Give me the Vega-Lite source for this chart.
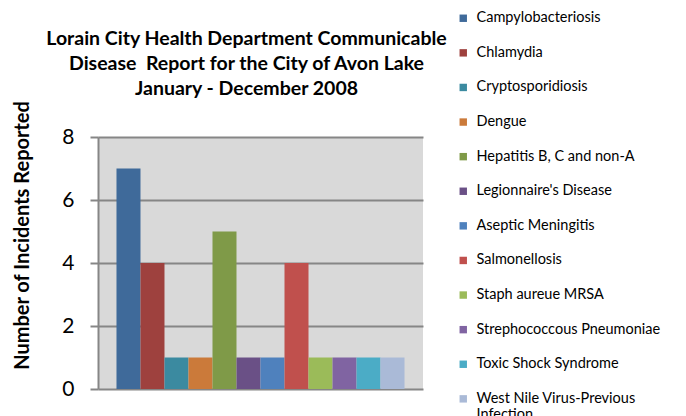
{
  "$schema": "https://vega.github.io/schema/vega-lite/v6.json",
  "autosize": {"type": "none"},
  "padding": {"left": 98, "top": 137, "right": 263, "bottom": 27},
  "width": 325,
  "height": 252,
  "background": "white",
  "title": {
    "text": ["Lorain City Health Department Communicable", "Disease\u00a0 Report for the City of Avon Lake", "January - December 2008"],
    "font": "Lato",
    "fontSize": 19.5,
    "fontWeight": "bold",
    "color": "black",
    "anchor": "middle",
    "frame": "group",
    "dx": -14,
    "offset": 0,
    "dy": 88,
    "lineHeight": 25
  },
  "data": {
    "values": [
      {"disease": "Campylobacteriosis", "count": 7},
      {"disease": "Chlamydia", "count": 4},
      {"disease": "Cryptosporidiosis", "count": 1},
      {"disease": "Dengue", "count": 1},
      {"disease": "Hepatitis B, C and non-A", "count": 5},
      {"disease": "Legionnaire's Disease", "count": 1},
      {"disease": "Aseptic Meningitis", "count": 1},
      {"disease": "Salmonellosis", "count": 4},
      {"disease": "Staph aureue MRSA", "count": 1},
      {"disease": "Strephococcous Pneumoniae", "count": 1},
      {"disease": "Toxic Shock Syndrome", "count": 1},
      {"disease": "West Nile Virus-Previous Infection", "count": 1}
    ]
  },
  "mark": {"type": "bar"},
  "encoding": {
    "x": {
      "field": "disease",
      "type": "nominal",
      "sort": null,
      "scale": {"paddingInner": 0, "paddingOuter": 0.77},
      "axis": null
    },
    "y": {
      "field": "count",
      "type": "quantitative",
      "scale": {"domain": [0, 8], "nice": false},
      "axis": {
        "title": "Number of Incidents Reported",
        "titleFont": "Lato",
        "titleFontSize": 20,
        "titleFontWeight": "bold",
        "titleColor": "black",
        "titleX": -76,
        "titleY": 98,
        "titleAlign": "center",
        "titleBaseline": "middle",
        "values": [0, 2, 4, 6, 8],
        "labelFont": "Lato",
        "labelFontSize": 21,
        "labelColor": "black",
        "labelPadding": 16,
        "tickColor": "#868686",
        "tickWidth": 2,
        "tickSize": 8,
        "domainColor": "#868686",
        "domainWidth": 2,
        "gridColor": "#868686",
        "gridWidth": 2
      }
    },
    "color": {
      "field": "disease",
      "type": "nominal",
      "sort": null,
      "scale": {
        "domain": ["Campylobacteriosis", "Chlamydia", "Cryptosporidiosis", "Dengue", "Hepatitis B, C and non-A", "Legionnaire's Disease", "Aseptic Meningitis", "Salmonellosis", "Staph aureue MRSA", "Strephococcous Pneumoniae", "Toxic Shock Syndrome", "West Nile Virus-Previous Infection"],
        "range": ["#3F6A9A", "#9E413E", "#3B8AA0", "#CB7A3A", "#7F9A48", "#6A5086", "#4F81BD", "#C0504D", "#9BBB59", "#8064A2", "#4BACC6", "#AABAD7"]
      },
      "legend": {
        "title": null,
        "orient": "none",
        "legendX": 358,
        "legendY": -126,
        "symbolType": "square",
        "symbolSize": 55,
        "symbolStrokeWidth": 0,
        "labelFont": "Lato",
        "labelFontSize": 14.5,
        "labelColor": "black",
        "labelOffset": 6,
        "labelLimit": 300,
        "rowPadding": 19.6,
        "labelExpr": "datum.label == 'West Nile Virus-Previous Infection' ? ['West Nile Virus-Previous', 'Infection'] : datum.label"
      }
    }
  },
  "config": {
    "view": {"fill": "#D9D9D9", "stroke": null}
  }
}
